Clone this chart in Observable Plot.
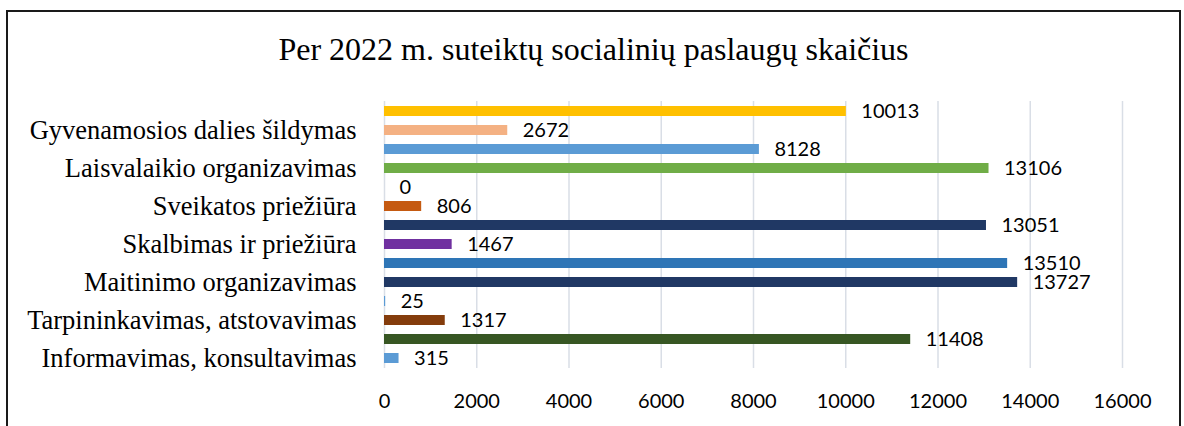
<!DOCTYPE html>
<html>
<head>
<meta charset="utf-8">
<script src="https://cdn.jsdelivr.net/npm/d3@7"></script>
<script src="https://cdn.jsdelivr.net/npm/@observablehq/plot@0.6"></script>
<style>
  html, body { margin: 0; padding: 0; background: #fff; }
  #wrap { position: relative; width: 1184px; height: 426px; overflow: hidden; background: #fff; }
  #frame { position: absolute; left: 6px; top: 10px; width: 1175px; height: 500px; box-sizing: border-box; border: 2px solid #1a1a1a; pointer-events: none; }
  #title { position: relative; height: 85px; }
  #title span { position: absolute; left: 0; width: 1187px; top: 31px; text-align: center; font-family: "Liberation Serif", "Times New Roman", serif; font-size: 32px; color: #000; white-space: nowrap; }
  #chart svg { display: block; }
</style>
</head>
<body>
<div id="wrap">
  <div id="frame"></div>
  <div id="title"><span>Per 2022 m. suteiktų socialinių paslaugų skaičius</span></div>
  <div id="chart"></div>
</div>
<script>
// Categories top-to-bottom (only every other row is labelled in the original)
const categoryLabels = [
  "", "Gyvenamosios dalies šildymas",
  "", "Laisvalaikio organizavimas",
  "", "Sveikatos priežiūra",
  "", "Skalbimas ir priežiūra",
  "", "Maitinimo organizavimas",
  "", "Tarpininkavimas, atstovavimas",
  "", "Informavimas, konsultavimas"
];
const values = [10013, 2672, 8128, 13106, 0, 806, 13051, 1467, 13510, 13727, 25, 1317, 11408, 315];
const barColors = ["#FFC000", "#F4B183", "#5B9BD5", "#70AD47", "#A5A5A5", "#C55A11", "#203864",
                   "#7030A0", "#2E75B6", "#203864", "#5B9BD5", "#843C0C", "#375623", "#5B9BD5"];
const xTicks = [0, 2000, 4000, 6000, 8000, 10000, 12000, 14000, 16000];

const rows = values.map((v, i) => ({ i, value: v, color: barColors[i], label: categoryLabels[i] }));
const labelledRows = rows.filter(d => d.label !== "").map(d => d.i);

const chart = Plot.plot({
  width: 1184,
  height: 341,
  marginLeft: 384,
  marginRight: 62,
  marginTop: 16,
  marginBottom: 58,
  style: { fontFamily: "Lato, sans-serif", fontSize: "20px", background: "transparent", color: "#000", overflow: "visible" },
  x: { domain: [0, 16000], ticks: xTicks },
  y: { domain: d3.range(values.length), paddingInner: 0.48, paddingOuter: 0.24 },
  color: { type: "identity" },
  marks: [
    Plot.ruleX(xTicks, { stroke: "#d9dee6", strokeWidth: 1.5 }),
    Plot.barX(rows, { x: "value", y: "i", fill: "color" }),
    Plot.text(rows, { x: "value", y: "i", text: d => String(d.value), dx: 15, textAnchor: "start", fill: "#000", fontSize: 20, fontFamily: "Lato, sans-serif" }),
    Plot.axisX({ ticks: xTicks, tickSize: 0, tickPadding: 25, tickFormat: d => String(d), fontSize: 20, fontFamily: "Lato, sans-serif", label: null }),
    Plot.axisY({ ticks: labelledRows, tickSize: 0, tickPadding: 28, tickFormat: i => categoryLabels[i], fontSize: 26.5, fontFamily: "Liberation Serif, Times New Roman, serif", label: null })
  ]
});
document.getElementById("chart").appendChild(chart);
</script>
</body>
</html>
